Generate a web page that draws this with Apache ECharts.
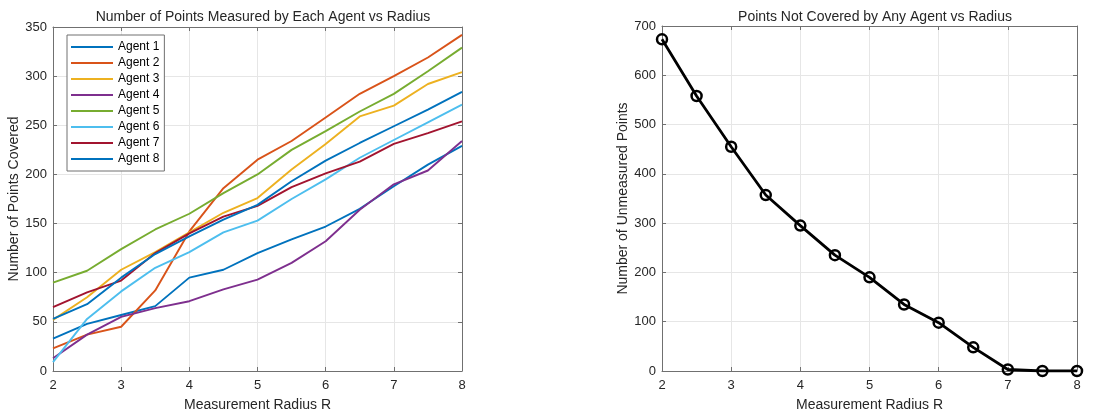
<!DOCTYPE html>
<html>
<head>
<meta charset="UTF-8">
<title>Coverage vs Radius</title>
<script src="https://cdn.jsdelivr.net/npm/echarts@6/dist/echarts.min.js"></script>
<style>
  html, body { margin: 0; padding: 0; background: #fff; }
  #main { width: 1112px; height: 417px; }
</style>
</head>
<body>
<div id="main"></div>
<script>
// radius values (x)
const radii = [2, 2.5, 3, 3.5, 4, 4.5, 5, 5.5, 6, 6.5, 7, 7.5, 8];

// points measured per agent
const agent1 = [33, 48, 57, 66, 95, 103, 120, 134, 147, 165, 188, 210, 229];
const agent2 = [23, 37, 45, 82, 142, 186, 215, 234, 258, 282, 300, 319, 342];
const agent3 = [52, 75, 103, 121, 141, 161, 176, 205, 231, 259, 270, 292, 304];
const agent4 = [13, 37, 55, 64, 71, 83, 93, 110, 132, 164, 190, 204, 234];
const agent5 = [90, 102, 124, 144, 160, 181, 200, 225, 244, 264, 282, 305, 329];
const agent6 = [9, 53, 81, 105, 121, 141, 153, 175, 195, 217, 235, 253, 271];
const agent7 = [65, 80, 92, 120, 140, 157, 168, 187, 201, 213, 231, 242, 254];
const agent8 = [53, 68, 95, 119, 137, 154, 169, 193, 214, 232, 249, 266, 284];

const agentNames = ['Agent 1', 'Agent 2', 'Agent 3', 'Agent 4', 'Agent 5', 'Agent 6', 'Agent 7', 'Agent 8'];
const agentValues = [agent1, agent2, agent3, agent4, agent5, agent6, agent7, agent8];
const agentColors = ['#0072BD', '#D95319', '#EDB120', '#7E2F8E', '#77AC30', '#4DBEEE', '#A2142F', '#0072BD'];

// points not covered by any agent
const uncovered = [673, 558, 455, 357, 295, 235, 190, 135, 98, 48, 3, 0, 0];

const leftTitle = 'Number of Points Measured by Each Agent vs Radius';
const rightTitle = 'Points Not Covered by Any Agent vs Radius';
const xName = 'Measurement Radius R';
const leftYName = 'Number of Points Covered';
const rightYName = 'Number of Unmeasured Points';

const font = 'Liberation Sans, Arial, sans-serif';
const textColor = '#262626';
const frameColor = '#707070';
const gridColor = '#e6e6e6';

function pair(xs, ys) {
  return xs.map((x, i) => [x, ys[i]]);
}

function mainX(gridIndex) {
  return {
    type: 'value', gridIndex, min: 2, max: 8, interval: 1,
    name: xName, nameLocation: 'middle', nameGap: 27,
    nameTextStyle: { color: textColor, fontSize: 14, fontFamily: font },
    axisLine: { show: true, onZero: false, lineStyle: { color: frameColor } },
    axisTick: { show: true, inside: true, length: 4, lineStyle: { color: frameColor } },
    axisLabel: { color: textColor, fontSize: 13, fontFamily: font, margin: 8 },
    splitLine: { show: true, lineStyle: { color: gridColor } }
  };
}

function mainY(gridIndex, max, interval, name) {
  return {
    type: 'value', gridIndex, min: 0, max, interval,
    name, nameLocation: 'middle', nameGap: 29,
    nameTextStyle: { color: textColor, fontSize: 14, fontFamily: font },
    axisLine: { show: true, lineStyle: { color: frameColor } },
    axisTick: { show: true, inside: true, length: 4, lineStyle: { color: frameColor } },
    axisLabel: { color: textColor, fontSize: 13, fontFamily: font, margin: 6 },
    splitLine: { show: true, lineStyle: { color: gridColor } }
  };
}

function boxX(gridIndex) {
  return {
    type: 'value', gridIndex, min: 2, max: 8, interval: 1, position: 'top',
    axisLine: { show: true, onZero: false, lineStyle: { color: frameColor } },
    axisTick: { show: true, inside: true, length: 4, lineStyle: { color: frameColor } },
    axisLabel: { show: false }, splitLine: { show: false }
  };
}

function boxY(gridIndex, max, interval) {
  return {
    type: 'value', gridIndex, min: 0, max, interval, position: 'right',
    axisLine: { show: true, onZero: false, lineStyle: { color: frameColor } },
    axisTick: { show: true, inside: true, length: 4, lineStyle: { color: frameColor } },
    axisLabel: { show: false }, splitLine: { show: false }
  };
}

const agentSeries = agentNames.map((name, i) => ({
  name,
  type: 'line',
  xAxisIndex: 0,
  yAxisIndex: 0,
  data: pair(radii, agentValues[i]),
  showSymbol: false,
  symbol: 'none',
  lineStyle: { color: agentColors[i], width: 1.9 },
  itemStyle: { color: agentColors[i] },
  z: 2 + i
}));

const chart = echarts.init(document.getElementById('main'), null, { renderer: 'canvas' });
chart.setOption({
  animation: false,
  backgroundColor: '#fff',
  title: [
    { text: leftTitle, left: 258, top: 5, textAlign: 'center',
      textStyle: { color: textColor, fontSize: 14, fontWeight: 'normal', fontFamily: font } },
    { text: rightTitle, left: 870, top: 5, textAlign: 'center',
      textStyle: { color: textColor, fontSize: 14, fontWeight: 'normal', fontFamily: font } }
  ],
  legend: {
    data: agentNames.map((n, i) => ({ name: n, itemStyle: { color: agentColors[i] } })),
    orient: 'vertical',
    left: 67,
    top: 35,
    padding: [4, 5, 4, 4],
    icon: 'rect',
    itemWidth: 42,
    itemHeight: 2,
    itemGap: 0,
    backgroundColor: '#fff',
    borderColor: frameColor,
    borderWidth: 1,
    textStyle: { color: '#000', fontSize: 12, fontFamily: font, lineHeight: 16, height: 16 }
  },
  grid: [
    { left: 53, top: 27, width: 409, height: 345 },
    { left: 662, top: 26, width: 415, height: 345 }
  ],
  xAxis: [mainX(0), mainX(1), boxX(0), boxX(1)],
  yAxis: [
    mainY(0, 350, 50, leftYName),
    mainY(1, 700, 100, rightYName),
    boxY(0, 350, 50),
    boxY(1, 700, 100)
  ],
  series: agentSeries.concat([{
    name: 'Uncovered',
    type: 'line',
    xAxisIndex: 1,
    yAxisIndex: 1,
    data: pair(radii, uncovered),
    symbol: 'circle',
    symbolSize: 10,
    showSymbol: true,
    lineStyle: { color: '#000', width: 2.8 },
    itemStyle: { color: 'rgba(0,0,0,0)', borderColor: '#000', borderWidth: 2.5 },
    z: 5
  }])
});
</script>
</body>
</html>
